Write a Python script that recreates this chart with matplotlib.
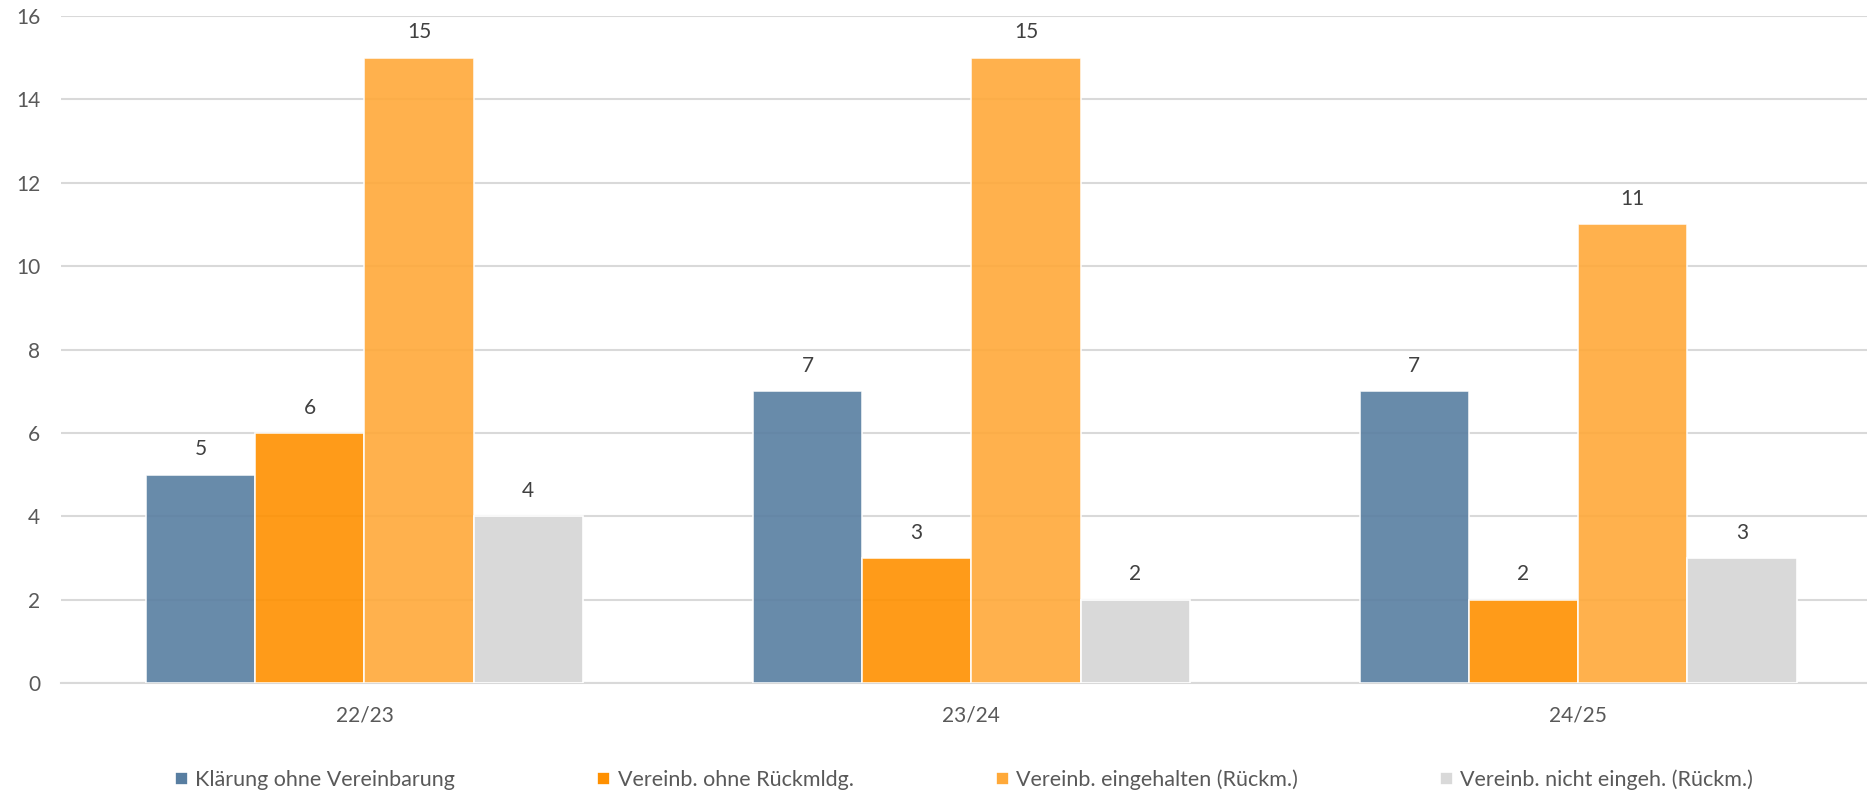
import numpy as np
from matplotlib import pyplot as plt

# school years and the four categories
years = ['22/23', '23/24', '24/25']
series_names = ['Klärung ohne Vereinbarung', 'Vereinb. ohne Rückmldg.',
                'Vereinb. eingehalten (Rückm.)', 'Vereinb. nicht eingeh. (Rückm.)']
klaerung = [5, 7, 7]
ohne_rueck = [6, 3, 2]
eingehalten = [15, 15, 11]
nicht_eingeh = [4, 2, 3]

colors = ['#587EA1', '#FF9000', '#FFA939', '#D9D9D9']
alphas = [0.9, 0.9, 0.9, 1.0]

plt.rcParams['font.family'] = ['Lato', 'DejaVu Sans']

fig = plt.figure(figsize=(18.67, 7.93), dpi=100)
ax = fig.add_axes([0.0327, 0.1387, 0.9673, 0.8411])

x = np.arange(len(years))
w = 0.18
all_series = [klaerung, ohne_rueck, eingehalten, nicht_eingeh]
for i, vals in enumerate(all_series):
    bars = ax.bar(x + (i - 1.5) * w, vals, w, color=colors[i], alpha=alphas[i],
                  edgecolor='white', linewidth=1.2, label=series_names[i], zorder=3)
    ax.bar_label(bars, padding=11, fontsize=15, color='#404040')

ax.set_ylim(0, 16)
ax.set_yticks(range(0, 17, 2))
ax.set_xlim(-0.5, 2.476)
ax.set_xticks(x)
ax.set_xticklabels(years)
ax.yaxis.grid(True, color='#D9D9D9', linewidth=1.5, zorder=1)
ax.set_axisbelow(True)
for s in ['top', 'right', 'left']:
    ax.spines[s].set_visible(False)
ax.spines['bottom'].set_color('#D9D9D9')
ax.spines['bottom'].set_linewidth(1.5)
ax.tick_params(axis='both', length=0, labelsize=15, labelcolor='#595959')
ax.tick_params(axis='y', pad=15)
ax.tick_params(axis='x', pad=16)

leg = ax.legend(loc='center', bbox_to_anchor=(0.5, -0.145), ncol=4, frameon=False,
                fontsize=15.5, labelcolor='#595959', handlelength=0.6, handleheight=0.6,
                handletextpad=0.35, columnspacing=6.6)
for h in leg.legend_handles:
    h.set_alpha(1)

fig.savefig('out.png', dpi=100)
